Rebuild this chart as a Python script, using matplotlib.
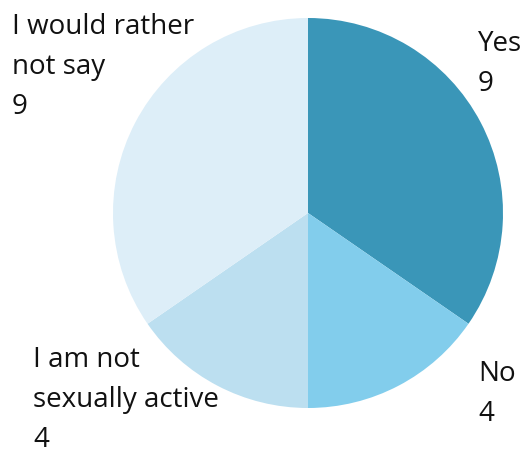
import matplotlib.pyplot as plt

answers = ["Yes", "No", "I am not\nsexually active", "I would rather\nnot say"]
counts = [9, 4, 4, 9]
colors = ["#3a96b8", "#82cdec", "#bcdff0", "#ddeef8"]

# label anchors in pixels from the top-left corner of each text block
label_pos = [(478, 30), (478, 360), (33, 346), (12, 13)]

W, H = 525, 453

fig = plt.figure(figsize=(W / 100, H / 100), dpi=100)
cx, cy, r = 308, 213, 195
ax = fig.add_axes([(cx - r) / W, (H - cy - r) / H, 2 * r / W, 2 * r / H])
ax.pie(counts, colors=colors, startangle=90, counterclock=False,
       wedgeprops=dict(linewidth=0))
ax.set_xlim(-1, 1)
ax.set_ylim(-1, 1)
ax.axis("off")

for name, n, (px, py) in zip(answers, counts, label_pos):
    fig.text(px / W, 1 - py / H, f"{name}\n{n}", ha="left", va="top",
             fontsize=20, family="Open Sans", color="#111111", linespacing=1.58)

fig.savefig("out.png", dpi=100)
